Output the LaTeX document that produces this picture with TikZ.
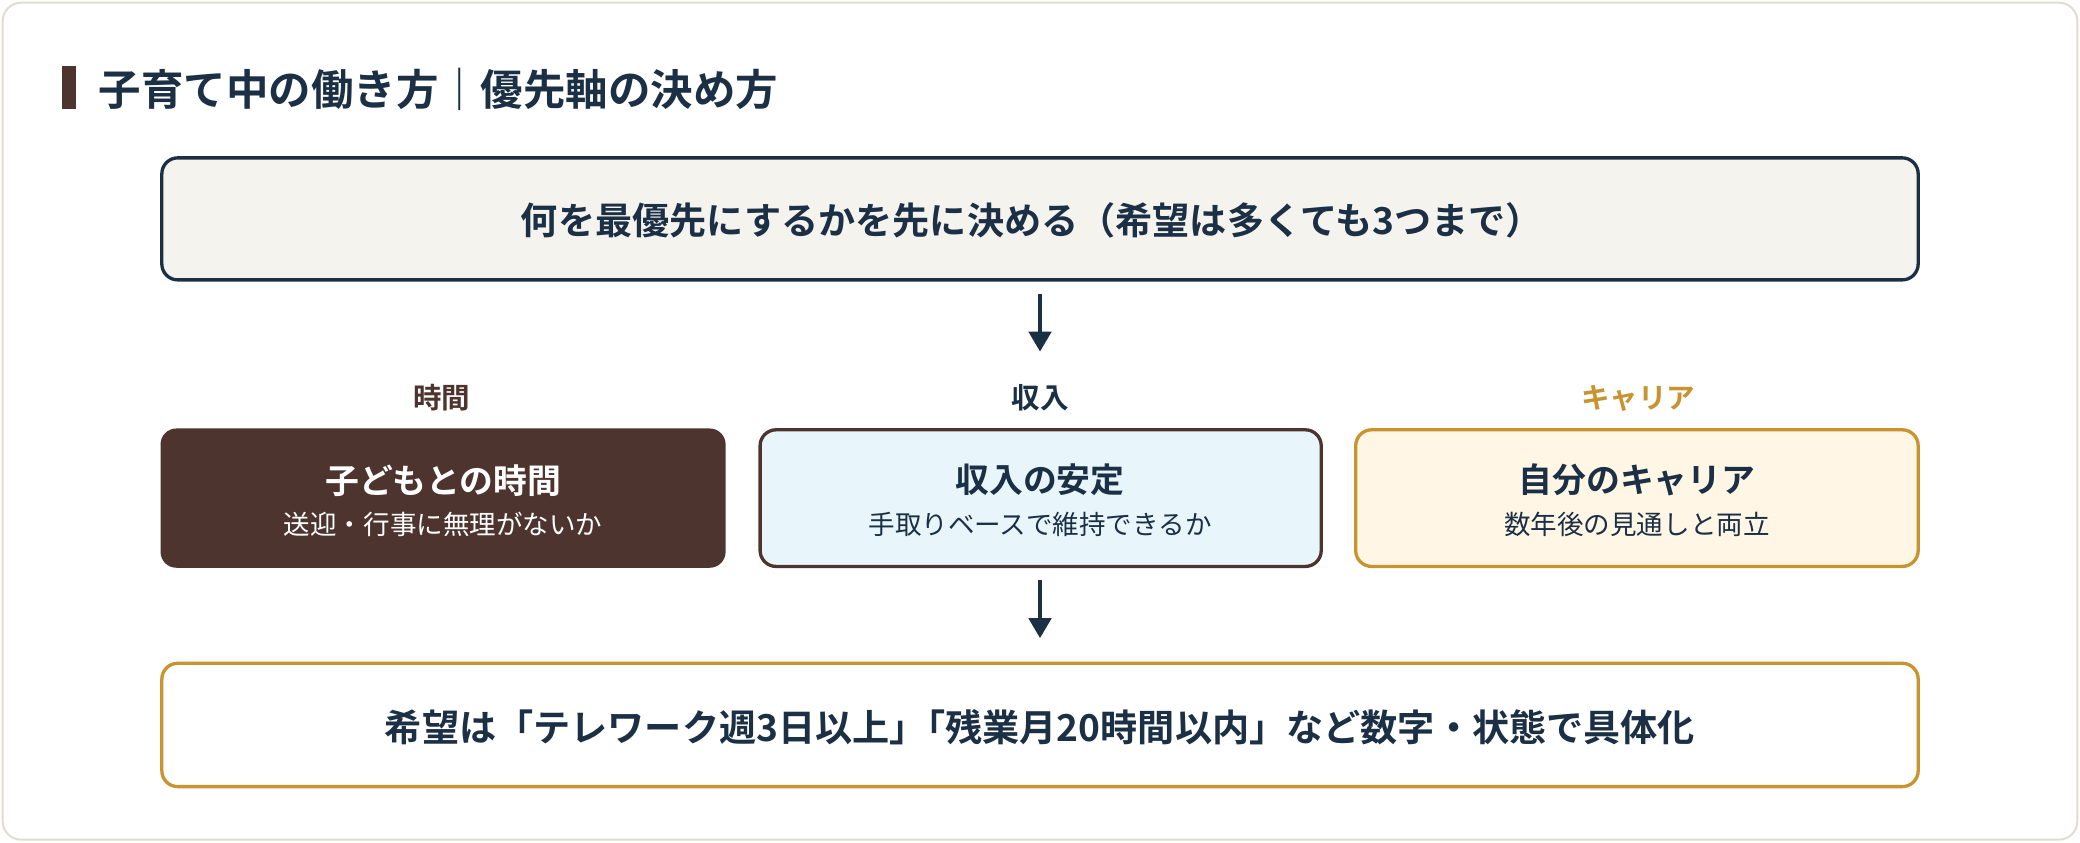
\documentclass[tikz,border=0pt]{standalone}
\usepackage{fontspec}
\setmainfont{Noto Sans CJK JP}
\newfontfamily\jpb{Noto Sans CJK JP Bold}
\usetikzlibrary{arrows.meta}
\definecolor{navy}{HTML}{1B2F45}
\definecolor{brn}{HTML}{4E342E}
\definecolor{gold}{HTML}{C8942F}
\definecolor{cream}{HTML}{F5F3EE}
\definecolor{lblue}{HTML}{E8F6FB}
\definecolor{lgold}{HTML}{FFF6E5}
\definecolor{frame}{HTML}{E0DDD0}
\begin{document}
\begin{tikzpicture}[x=1pt,y=-1pt,
  box/.style={draw,line width=2.5pt,rounded corners=12pt},
  arr/.style={navy,line width=2.4pt,-{Triangle[length=15pt,width=17pt]}},
  lab/.style={font=\jpb\fontsize{21.5}{24}\selectfont},
  mt/.style={font=\jpb\fontsize{28}{32}\selectfont,text=navy},
  ct/.style={font=\jpb\fontsize{25.5}{30}\selectfont},
  st/.style={font=\fontsize{20}{24}\selectfont}]
\useasboundingbox (0,0) rectangle (1568,635);
\draw[frame,fill=white,line width=1.5pt,rounded corners=14pt] (2,2) rectangle (1566,633);
\fill[brn] (47,50) rectangle (57,82);
\node[anchor=west,font=\jpb\fontsize{32}{36}\selectfont,text=navy] (title) at (71,67) {子育て中の働き方｜優先軸の決め方};
\draw[box,navy,fill=cream] (122,119) rectangle (1446,211);
\node[mt] (top) at (778,166) {何を最優先にするかを先に決める（希望は多くても3つまで）};
\coordinate (a1) at (784,222); \coordinate (a2) at (784,265);
\draw[arr] (a1) -- (a2);
\node[lab,text=brn] (l1) at (333,300) {時間};
\node[lab,text=navy] (l2) at (784,300) {収入};
\node[lab,text=gold] (l3) at (1235,300) {キャリア};
\fill[brn,rounded corners=12pt] (121,323) rectangle (547,428);
\node[ct,text=white] (b1) at (334,362) {子どもとの時間};
\node[st,text=white] (s1) at (334,395) {送迎・行事に無理がないか};
\draw[box,brn,fill=lblue] (573,324) rectangle (996,427);
\node[ct,text=navy] (b2) at (784,362) {収入の安定};
\node[st,text=navy] (s2) at (784,395) {手取りベースで維持できるか};
\draw[box,gold,fill=lgold] (1022,324) rectangle (1446,427);
\node[ct,text=navy] (b3) at (1234,362) {自分のキャリア};
\node[st,text=navy] (s3) at (1234,395) {数年後の見通しと両立};
\coordinate (c1) at (784,437); \coordinate (c2) at (784,481);
\draw[arr] (c1) -- (c2);
\draw[box,gold,fill=white] (122,500) rectangle (1446,593);
\node[mt] (bot) at (784,548) {希望は「テレワーク週3日以上」\hspace{-0.5em}「残業月20時間以内」など数字・状態で具体化};
\end{tikzpicture}
\end{document}
